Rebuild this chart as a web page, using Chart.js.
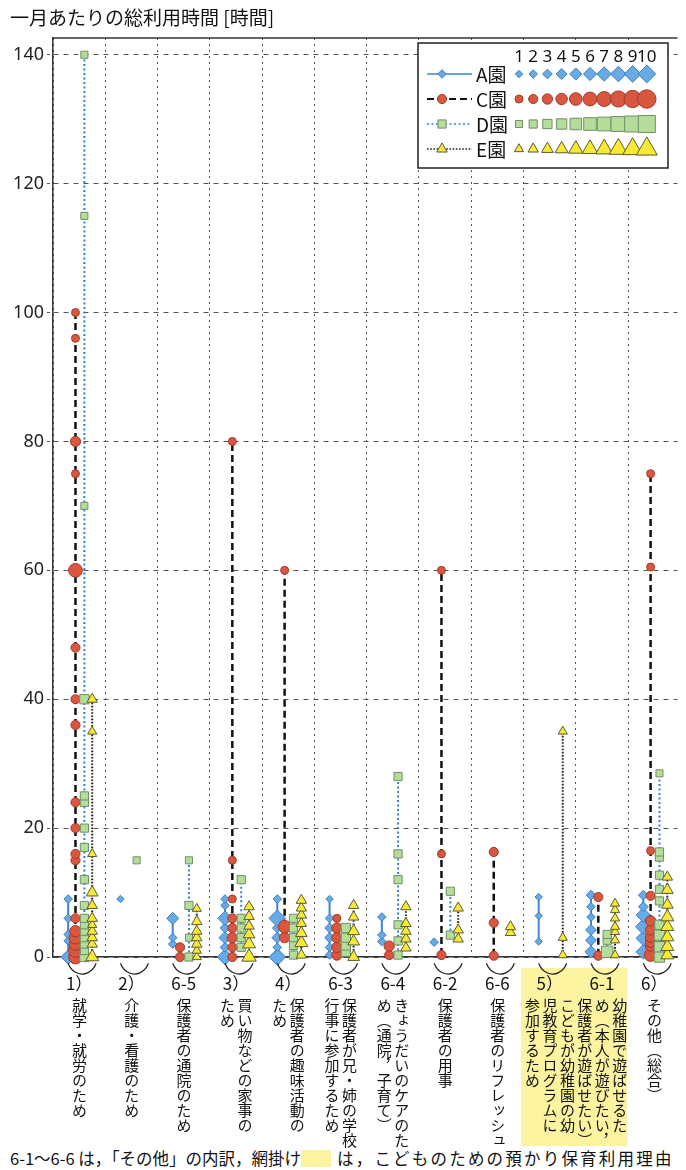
<!DOCTYPE html>
<html lang="ja">
<head>
<meta charset="utf-8">
<script src="https://cdn.jsdelivr.net/npm/chart.js@4.4.1/dist/chart.umd.min.js"></script>
<style>
html,body{margin:0;padding:0;background:#fff;}
body{width:686px;height:1170px;position:relative;overflow:hidden;font-family:"Noto Sans CJK JP","Noto Sans",sans-serif;color:#222;}
#wrap{position:absolute;left:0;top:0;width:686px;height:1000px;}
#title{position:absolute;left:10px;top:4px;font-size:19px;line-height:26px;white-space:nowrap;color:#111;}
.hl{position:absolute;background:#fbf3a0;}
.num{position:absolute;font-size:17px;line-height:20px;white-space:nowrap;transform:translateX(-50%);color:#111;}
.vt{position:absolute;writing-mode:vertical-rl;font-size:15px;line-height:17.5px;white-space:nowrap;transform:translateX(-50%);color:#111;}
.note{position:absolute;top:1148px;font-size:16.5px;line-height:20px;white-space:nowrap;color:#111;}
.sw{position:absolute;top:1150px;left:301px;width:30px;height:17px;background:#fbf3a0;}
</style>
</head>
<body>
<div id="labels"></div>
<div id="wrap"><canvas id="c" width="686" height="1000"></canvas></div>
<div id="title">一月あたりの総利用時間 [時間]</div>
<div class="note" style="left:10px;">6-1〜6-6 は，「その他」の内訳，網掛け</div>
<div class="sw"></div>
<div class="note" style="left:337px;letter-spacing:2.2px;">は，こどものための預かり保育利用理由</div>
<script>
// Reasons for using childcare (category order along the x axis)
const categories = ['1）', '2）', '6-5', '3）', '4）', '6-3', '6-4', '6-2', '6-6', '5）', '6-1', '6）'];
const reasons = [
  ['就学・就労のため'],
  ['介護・看護のため'],
  ['保護者の通院のため'],
  ['買い物などの家事の', 'ため'],
  ['保護者の趣味活動の', 'ため'],
  ['保護者が兄・姉の学校', '行事に参加するため'],
  ['きょうだいのケアのた', 'め（通院，子育て）'],
  ['保護者の用事'],
  ['保護者のリフレッシュ'],
  ['こどもが幼稚園の幼', '児教育プログラムに', '参加するため'],
  ['幼稚園で遊ばせるた', 'め（本人が遊びたい，', '保護者が遊ばせたい）'],
  ['その他（総合）']
];
// reasons that concern childcare for the child's own sake
const childReasons = ['5）', '6-1'];

const seriesNames = ['A園', 'C園', 'D園', 'E園'];
const sizeSteps = [1, 2, 3, 4, 5, 6, 7, 8, 9, 10];
const yTicks = [0, 20, 40, 60, 80, 100, 120, 140];

// [monthly hours, number of users] for each category
const seriesA = [
  [[9, 2], [6, 2], [3.5, 2], [2.5, 2], [0, 7]],
  [[9, 1]],
  [[6, 5], [3, 2], [2, 2]],
  [[9, 2], [8, 2], [6, 7], [4.5, 3], [3, 5], [1.5, 3], [0, 8]],
  [[9, 2], [6, 9], [4.5, 3], [3, 4], [1.5, 2], [0, 9]],
  [[9, 1], [6, 2], [4.5, 3], [3, 3], [1.5, 2], [0.3, 2]],
  [[6.2, 2], [3.4, 2], [2.4, 2]],
  [[2.3, 2]],
  [],
  [[9.3, 1], [6.4, 1], [2.4, 1]],
  [[9.6, 3], [7.8, 2], [6.2, 2], [4.2, 4], [2.6, 4], [0.8, 5]],
  [[9.6, 3], [7.8, 3], [6.5, 7], [4.7, 8], [2.9, 7], [0.8, 7]]
];
const seriesC = [
  [[100, 1], [96, 1], [80, 3], [75, 1], [60, 6], [48, 2], [40, 2], [36, 2], [24, 2], [20, 2], [16, 2], [15, 2], [6, 2], [4, 4], [3, 5], [2, 5], [1, 6], [0, 6]],
  [],
  [[1.5, 2], [0, 2]],
  [[80, 1], [15, 1], [9, 1], [6, 2], [4.5, 2], [3, 3], [1.5, 2], [0, 2]],
  [[60, 1], [4.7, 5], [3, 3]],
  [[6, 1], [4.5, 3], [3, 3], [1.5, 3], [0.3, 3]],
  [[1.7, 3], [0.3, 2]],
  [[60, 1], [16, 1], [0.3, 2]],
  [[16.3, 2], [5.3, 2], [0.2, 2]],
  [],
  [[9.3, 2], [0.2, 2]],
  [[75, 1], [60.5, 1], [16.5, 1], [9.5, 2], [5.6, 3], [4.2, 3], [3.1, 3], [2.3, 3], [1.7, 3], [0.3, 5]]
];
const seriesD = [
  [[140, 1], [115, 1], [70, 1], [40, 3], [25, 2], [24, 2], [20, 2], [17, 2], [12, 2], [8, 2], [6, 2], [5, 2], [4, 2], [3, 2], [2, 2], [1, 2], [0, 3]],
  [[15, 1]],
  [[15, 1], [8, 2], [3, 1], [0, 2]],
  [[12, 2], [6, 2], [4.5, 2], [3, 2], [1.5, 2]],
  [[6, 2], [4.5, 2], [3, 2], [1.8, 2], [0.3, 2]],
  [[4.5, 3], [3, 3], [1.8, 3], [0.8, 3]],
  [[28, 2], [16, 2], [12, 2], [5, 2], [2.5, 2], [0.3, 2]],
  [[10.2, 2], [3.4, 2]],
  [],
  [],
  [[3.5, 2], [2.6, 2], [0.8, 5]],
  [[28.5, 1], [16.3, 2], [15.5, 2], [12.7, 2], [10.5, 2], [8.7, 2], [5, 3], [3.4, 4], [1.6, 4], [0, 4]]
];
const seriesE = [
  [[40, 2], [35, 1], [16, 1], [10, 3], [8, 2], [6, 2], [5, 1], [4, 2], [3, 2], [2, 2], [0, 4]],
  [],
  [[7.5, 1], [5.5, 2], [4, 2], [3, 2], [2, 2], [1, 1], [0, 1]],
  [[7.8, 2], [6.3, 2], [4.8, 2], [3.5, 3], [2, 4], [0, 5]],
  [[8.8, 2], [7.6, 2], [6.5, 2], [5.2, 2], [3.7, 3], [2.2, 4], [0.3, 2]],
  [[8, 2], [6.2, 2], [4, 3], [2.4, 3], [0, 3]],
  [[7.8, 2], [5.2, 2], [4, 2], [2.8, 2], [1.4, 2]],
  [[7.6, 2], [4.2, 2], [2.8, 2]],
  [[4.7, 2], [3.8, 2]],
  [[35, 1], [3, 1], [0.3, 1]],
  [[8.3, 1], [7.3, 1], [6, 1], [4.7, 1], [3.9, 1], [2.6, 1], [0.3, 1]],
  [[12.4, 2], [10.4, 3], [8.1, 3], [6.2, 4], [4.7, 4], [3.1, 4], [1.6, 4], [0.3, 4]]
];

// appearance of each kindergarten's marks
const styles = [
  {style: 'rectRot', fill: '#68aae6', edge: '#3d7fc2', line: '#3a86d8', dash: [], lw: 2, shift: -0.21},
  {style: 'circle', fill: '#d9573f', edge: '#a23c2b', line: '#111', dash: [7, 4], lw: 2.5, shift: -0.07},
  {style: 'rect', fill: '#b6dc9a', edge: '#6f8f66', line: '#2f7fe0', dash: [2, 2.5], lw: 2, shift: 0.1},
  {style: 'triangle', fill: '#f8e932', edge: '#5c5a3c', line: '#222', dash: [1.6, 1.6], lw: 2, shift: 0.25}
];

function markerRadius(style, n) {
  const h = 3.7 + (n - 1) * 0.58;
  if (style === 'rect') return h * 1.35;
  if (style === 'triangle') return h * 1.3 + 0.5;
  if (style === 'circle') return h + 0.3;
  return h;
}

function buildPoints(perCat, shift) {
  const pts = [];
  perCat.forEach((list, i) => {
    const sorted = list.slice().sort((a, b) => a[0] - b[0]);
    sorted.forEach(([v, n]) => pts.push({x: i + 0.5 + shift, y: v, n: n}));
    pts.push({x: i + 0.5 + shift, y: null});
  });
  return pts;
}

const allSeries = [seriesA, seriesC, seriesD, seriesE];
const datasets = allSeries.map((s, k) => {
  const st = styles[k];
  return {
    label: seriesNames[k],
    data: buildPoints(s, st.shift),
    showLine: true,
    spanGaps: false,
    borderColor: st.line,
    borderWidth: st.lw,
    borderDash: st.dash,
    pointStyle: st.style,
    pointBackgroundColor: st.fill,
    pointBorderColor: st.edge,
    pointBorderWidth: 1,
    pointRadius: c => (c.raw && c.raw.n ? markerRadius(st.style, c.raw.n) : 0),
    pointHoverRadius: c => (c.raw && c.raw.n ? markerRadius(st.style, c.raw.n) : 0),
    order: 4 - k,
    clip: false
  };
});

function drawMarker(ctx, st, n, x, y) {
  ctx.save();
  ctx.setLineDash([]);
  ctx.fillStyle = st.fill;
  ctx.strokeStyle = st.edge;
  ctx.lineWidth = 1;
  Chart.helpers.drawPoint(ctx, {pointStyle: st.style, radius: markerRadius(st.style, n), rotation: 0, borderWidth: 1}, x, y);
  ctx.restore();
}

const framePlugin = {
  id: 'frame',
  afterDraw(chart) {
    const {ctx, chartArea, scales} = chart;
    ctx.save();
    // top frame line
    ctx.strokeStyle = '#333';
    ctx.lineWidth = 1.5;
    ctx.beginPath();
    ctx.moveTo(chartArea.left, chartArea.top);
    ctx.lineTo(chartArea.right, chartArea.top);
    ctx.stroke();
    // bracket under each category
    ctx.lineWidth = 1.2;
    ctx.strokeStyle = '#222';
    categories.forEach((c, i) => {
      const cx = scales.x.getPixelForValue(i + 0.5) + 3;
      ctx.beginPath();
      ctx.ellipse(cx, chartArea.bottom, 15, 17, 0, 0.12 * Math.PI, 0.88 * Math.PI);
      ctx.stroke();
    });
    // legend with marker size scale
    const bx = 418, by = 43, bw = 250, bh = 125;
    ctx.fillStyle = '#fff';
    ctx.fillRect(bx, by, bw, bh);
    ctx.strokeStyle = '#222';
    ctx.lineWidth = 1.5;
    ctx.strokeRect(bx, by, bw, bh);
    ctx.fillStyle = '#111';
    ctx.textAlign = 'center';
    ctx.textBaseline = 'middle';
    ctx.font = '17px "Noto Sans", sans-serif';
    sizeSteps.forEach((n, j) => ctx.fillText(String(n), 519 + j * 14.2, 57));
    styles.forEach((st, r) => {
      const y = 74 + r * 25;
      ctx.save();
      ctx.strokeStyle = st.line;
      ctx.lineWidth = st.lw - 0.5;
      ctx.setLineDash(st.dash);
      ctx.beginPath();
      ctx.moveTo(427, y);
      ctx.lineTo(472, y);
      ctx.stroke();
      ctx.restore();
      drawMarker(ctx, st, 2, 442, y);
      ctx.fillStyle = '#111';
      ctx.textAlign = 'left';
      ctx.font = '19px "Noto Sans CJK JP", sans-serif';
      ctx.fillText(seriesNames[r], 476, y + 1);
      sizeSteps.forEach((n, j) => drawMarker(ctx, st, n, 519 + j * 14.2, y));
    });
    ctx.restore();
  }
};

const chart = new Chart(document.getElementById('c'), {
  type: 'scatter',
  data: {datasets: datasets},
  options: {
    responsive: false,
    animation: false,
    devicePixelRatio: 1,
    layout: {padding: {top: 38, right: 0, left: 0, bottom: 0}},
    plugins: {legend: {display: false}, tooltip: {enabled: false}},
    scales: {
      x: {
        type: 'linear',
        min: 0,
        max: 633 / 53,
        ticks: {display: false, stepSize: 1, includeBounds: false},
        grid: {color: '#555', lineWidth: 1, drawTicks: false},
        border: {display: true, color: '#333', width: 1.5, dash: [2, 4]},
        afterFit: s => { s.height = 43; }
      },
      y: {
        min: 0,
        max: 142.6,
        afterBuildTicks: s => { s.ticks = yTicks.map(v => ({value: v})); },
        ticks: {color: '#222', font: {family: '"Noto Sans", sans-serif', size: 18}, padding: 3},
        grid: {color: '#555', lineWidth: 1, tickLength: 6, tickColor: '#555', tickBorderDash: [3, 3]},
        border: {display: true, color: '#333', width: 1.5, dash: [5, 5]},
        afterFit: s => { s.width = 53; }
      }
    }
  },
  plugins: [framePlugin]
});

// category labels below the axis, written vertically
(function placeLabels() {
  const host = document.getElementById('labels');
  const xs = chart.scales.x;
  categories.forEach((c, i) => {
    const cx = xs.getPixelForValue(i + 0.5);
    if (childReasons.includes(c)) {
      const hl = document.createElement('div');
      hl.className = 'hl';
      hl.style.left = (cx - 29) + 'px';
      hl.style.top = '968px';
      hl.style.width = '54px';
      hl.style.height = '178px';
      host.appendChild(hl);
    }
    const num = document.createElement('div');
    num.className = 'num';
    num.textContent = c;
    num.style.left = cx + 'px';
    num.style.top = '973px';
    document.body.appendChild(num);
    const vt = document.createElement('div');
    vt.className = 'vt';
    vt.innerHTML = reasons[i].join('<br>');
    vt.style.left = cx + 'px';
    vt.style.top = '998px';
    document.body.appendChild(vt);
  });
})();
</script>
</body>
</html>
